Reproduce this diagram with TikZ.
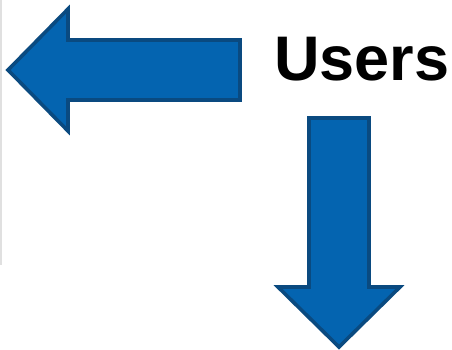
\documentclass[tikz,border=0pt]{standalone}
\usepackage{fontspec}
\setmainfont{Liberation Sans}
\definecolor{arrowfill}{RGB}{4,100,176}
\definecolor{arrowline}{RGB}{10,74,128}
\tikzset{
  bigarrow/.style={fill=arrowfill, draw=arrowline, line width=3.6pt, line join=miter},
  label/.style={font=\bfseries\fontsize{63}{63}\selectfont, inner sep=0pt, anchor=base west}
}
\begin{document}
\begin{tikzpicture}[x=1pt,y=-1pt]
\useasboundingbox (0,0) rectangle (452,349);
\fill[white] (0,0) rectangle (452,349);
\draw[black!12, line width=2pt] (1,0) -- (1,265);
% left arrow
\draw[bigarrow] (8,70) -- (68,9) -- (68,40) -- (240,40) -- (240,100) -- (68,100) -- (68,131) -- cycle;
% down arrow
\draw[bigarrow] (309,118) -- (369,118) -- (369,287) -- (400,287) -- (339,347) -- (278,287) -- (309,287) -- cycle;
\node[label] (users) at (274,80) {Users};
\end{tikzpicture}
\end{document}
